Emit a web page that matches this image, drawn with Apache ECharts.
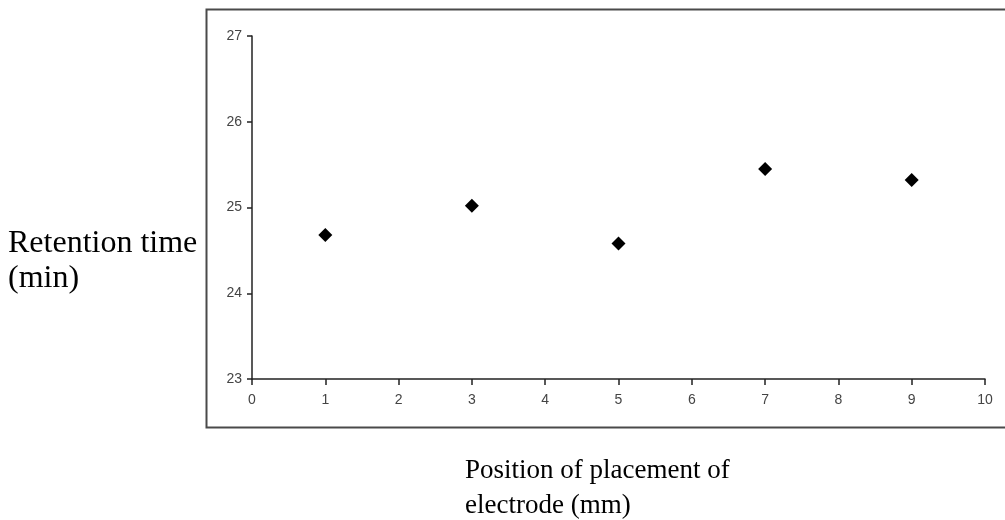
<!DOCTYPE html>
<html>
<head>
<meta charset="utf-8">
<script src="https://cdn.jsdelivr.net/npm/echarts@6/dist/echarts.min.js"></script>
<style>
  html, body { margin: 0; padding: 0; background: #fff; }
  #draw { width: 1005px; height: 520px; }
</style>
</head>
<body>
<div id="draw"></div>
<script>
// electrode position (mm) vs retention time (min)
var positions = [1, 3, 5, 7, 9];
var retention = [24.68, 25.02, 24.58, 25.45, 25.32];
var yLabel = ['Retention time', '(min)'];
var xLabel = ['Position of placement of', 'electrode (mm)'];

var myChart = echarts.init(document.getElementById('draw'));

var points = positions.map(function(p, i) {
	return [p, retention[i]];
});

var tickLabel = {
	color : '#444',
	fontFamily : 'Liberation Sans, Arial, sans-serif',
	fontSize : 14
};

option = {
	animation : false,
	backgroundColor : '#fff',
	grid : {
		left : 252,
		right : 20,
		top : 36,
		bottom : 141
	},
	xAxis : {
		type : 'value',
		min : 0,
		max : 10,
		interval : 1,
		splitLine : { show : false },
		axisLine : { lineStyle : { color : '#222', width : 1.5 } },
		axisTick : { length : 6, lineStyle : { color : '#222', width : 1.5 } },
		axisLabel : Object.assign({ margin : 14 }, tickLabel)
	},
	yAxis : {
		type : 'value',
		min : 23,
		max : 27,
		interval : 1,
		splitLine : { show : false },
		axisLine : { show : true, lineStyle : { color : '#222', width : 1.5 } },
		axisTick : { show : true, length : 5, lineStyle : { color : '#222', width : 1.5 } },
		axisLabel : Object.assign({ margin : 10 }, tickLabel)
	},
	series : [ {
		type : 'scatter',
		symbol : 'diamond',
		symbolSize : 14,
		itemStyle : { color : '#000', opacity : 1 },
		data : points
	} ],
	graphic : [ {
		type : 'rect',
		shape : { x : 206.5, y : 9.5, width : 820, height : 418 },
		style : { fill : null, stroke : '#4a4a4a', lineWidth : 2 },
		silent : true
	}, {
		type : 'text',
		left : 8,
		top : 226,
		style : {
			text : yLabel.join('\n'),
			font : '32px "Liberation Serif", "Times New Roman", serif',
			lineHeight : 35,
			fill : '#000'
		}
	}, {
		type : 'text',
		left : 465,
		top : 453,
		style : {
			text : xLabel.join('\n'),
			font : '27px "Liberation Serif", "Times New Roman", serif',
			lineHeight : 35,
			fill : '#000'
		}
	} ]
};
myChart.setOption(option);
</script>
</body>
</html>
